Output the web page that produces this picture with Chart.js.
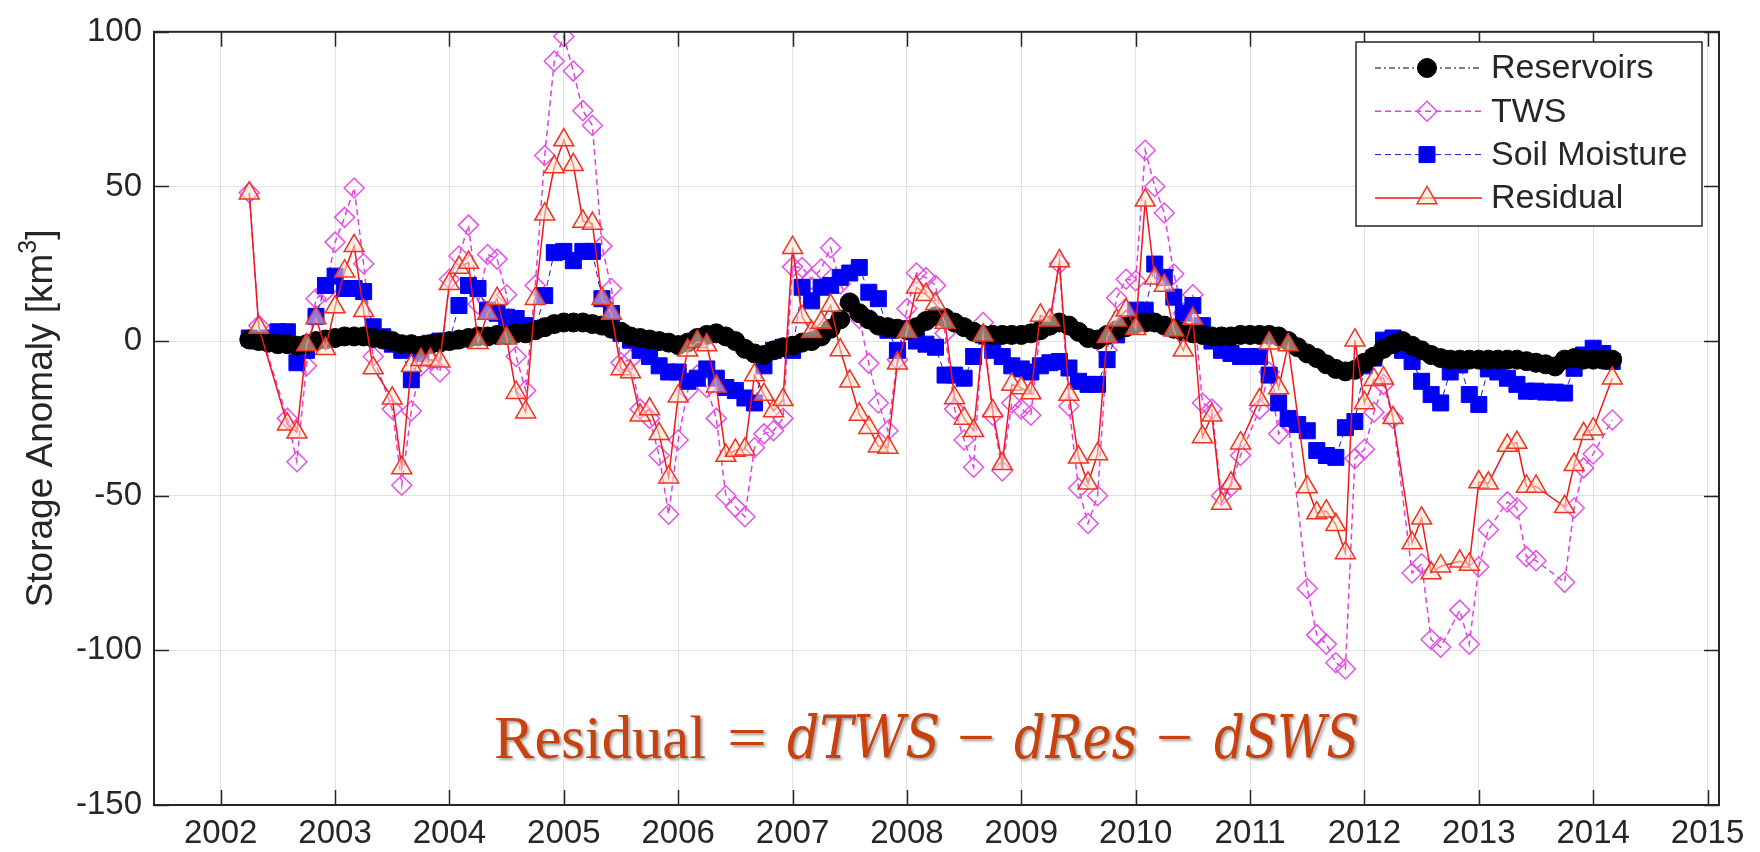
<!DOCTYPE html>
<html>
<head>
<meta charset="utf-8">
<script src="https://cdn.jsdelivr.net/npm/chart.js@4.4.1/dist/chart.umd.min.js"></script>
<style>
  html, body { margin: 0; padding: 0; background: #fff; }
  #wrap { position: relative; width: 1760px; height: 852px; }
</style>
</head>
<body>
<div id="wrap"><canvas id="chart" width="1760" height="852"></canvas></div>
<script>
// monthly values from April 2002 to March 2014, km^3 (null = no GRACE month)
var startYear = 2002;
var startMonth = 4;

var reservoirs = [
  0.5, 0, -0.5, -1, -1, -1.5, -1, 0, 0.5,                     // 2002
  1, 1.5, 1.5, 1.5, 1, 0.5, 0, -1, -1, -1.5, -1, -0.5,        // 2003
  0, 0.5, 1, 1.5, 1.5, 2, 2, 2.5, 2.5, 3.5, 4.5, 5.5,         // 2004
  6, 6, 6, 5.5, 5, 4, 3, 1.5, 1, 0.5, 0, -0.5,                // 2005
  -1.3, -0.5, 1, 2, 2.5, 1.5, 0, -2.5, -4, -4.5, -3, -2,      // 2006
  -1.5, -0.5, 0, 1.5, 4, 7, 12.5, 9, 7, 5, 4.5, 4,            // 2007
  3.5, 4.5, 6.5, 8, 7.5, 6, 4.5, 3, 2, 2, 2, 2,               // 2008
  2, 2.5, 3.5, 5, 6, 5, 3, 1, 0.5, 2, 3.5, 4.5,               // 2009
  5.5, 6, 6, 5, 4, 3, 2.5, 2, 1.5, 1.5, 1.5, 2,               // 2010
  2, 2, 2, 1.5, 0, -2, -4, -5.5, -7.5, -9, -9.8, -9.3,        // 2011
  -7, -5, -2.5, -1, 0, -1.5, -3, -4.5, -5.5, -6, -6, -6,      // 2012
  -6, -6, -6, -6, -6, -6.5, -7, -7.5, -8.2, -6, -5.5, -6,     // 2013
  -6, -6, -6                                                  // 2014
];

var tws = [
  48, 5, null, null, -25, -39, -8, 13.7, 16,
  32, 40, 49.5, 25, -5, null, -22, -46.6, -22.6, -8, -6, -10,
  20, 27.5, 37.5, 12, 28, 26.5, 15, -5, -16, 18, 60, 90.5,
  98.5, 87.3, 74.5, 69.7, 30.7, 17, -7, -6, -22, -25, -37, -56,
  -32, -16, -11, -15, -25, -50, -53.6, -56.8, -34.5, -30, -29, -25,
  24, 23.8, 20, 23.3, 30.2, 18.5, 12, 7.3, -7.2, -20, -29, -6,
  10.5, 22, 20.5, 18, 2.5, -22, -32, -40.8, 6, -24, -42, -20,
  -22, -24, 4, 5, 25, -21, -47.6, -59, -50, -3, 14, 20,
  19.5, 61.7, 50, 41.4, 21.7, 9, 15, -20, -22, -50, -47, -37,
  null, -22, -10, -30, -26, null, -80, -95, -98, -104, -106, -38,
  -35, -23, -14, -25, null, -75, -72, -96.5, -99, null, -87, -98,
  -73, -61, null, -52, -54, -69.7, -71, null, null, -78, -54, -41,
  -36.5, null, -25.5
];

var soilMoisture = [
  1, 0, 1, 3, 3, -7, -3, 8, 18,
  21, 17, 17, 16, 4.6, 1.4, -1, -3, -12.5, -4, -0.7, 0,
  0, 11.5, 18, 17, 10, 9, 7.7, 7.3, 5, 4, 14.7, 28.6,
  29, 26, 29, 29, 13.7, 8.9, 2.5, 0.3, -3, -5, -8, -10,
  -10, -13, -12, -9, -12, -15, -16, -18.4, -20, -8, -3, -2,
  -3, 17.4, 13, 17.4, 18, 20.6, 22, 23.8, 15.8, 13.7, 3.5, -3,
  4, 0, -1, -2, -11, -11, -12, -5, 2, -3, -5, -8,
  -9, -10, -8, -7, -6.6, -8.7, -13, -14, -14, -6, 2, 5,
  10, 10, 24.9, 20.6, 14.2, 9, 11.5, 5, 0, -3, -4, -5,
  -5, -5, -11, -20, -25, -27, -29, -35.4, -37, -37.6, -28, -26,
  -8, -5.5, 0.3, 1, -3, -6.6, -13, -17.3, -20, -10, -7.7, -17.3,
  -20.5, -9, -10, -12, -14, -16.2, -16.2, -16.5, -16.5, -16.8, -8.8, -4.5,
  -2.3, -4, -6.6
];

var residual = [
  47.8, 4.4, null, null, -26.9, -29.5, -1.3, 7.5, -2.5,
  11, 22.6, 30.8, 9.8, -8.7, null, -18.5, -41, -8, -6, -6, -6.5,
  18.5, 23.8, 25.4, -0.5, 8.9, 13.7, 0.9, -16.7, -23, 13.7, 41, 56.3,
  65, 57, 38.7, 38, 13.7, 8.9, -9, -10, -24, -22, -30, -44,
  -17.8, -3, -0.2, -1.3, -14.6, -37, -35.4, -35, -11, -17.3, -22.6, -19,
  30.2, 7.8, 3, 6, 11.5, -2.9, -13, -23.7, -28, -34, -34.4, -7.2,
  3, 17.4, 15, 12, 6, -18.4, -25, -29, 1.9, -22.6, -39.7, -14,
  -15.2, -16.8, 8.3, 6.7, 25.9, -17.3, -37.6, -46, -36.5, 1.4, 6.7, 10,
  4, 45.5, 20.3, 18, 3.5, -3, 7.3, -31, -24, -52.5, -46, -33,
  null, -19, -0.7, -15.2, -1.3, null, -47.2, -55.6, -55, -59.4, -68.5, 0.3,
  -20, -12.5, -12, -24.8, null, -65.3, -57.3, -75, -72.8, null, -71.2, -72.2,
  -45.6, -46, null, -33.8, -32.8, -47, -47, null, null, -53.6, -40, -30,
  -28.5, null, -12
];

var yearTicks = [2002, 2003, 2004, 2005, 2006, 2007, 2008, 2009, 2010, 2011, 2012, 2013, 2014, 2015];
var yTicks = [-150, -100, -50, 0, 50, 100];

var axisColor = '#262626';
var fontFamily = '"Liberation Sans", Arial, sans-serif';

function toPoints(values) {
  var pts = [];
  for (var i = 0; i < values.length; i++) {
    var m = startMonth - 1 + i;
    pts.push({ x: startYear + m / 12, y: values[i] });
  }
  return pts;
}

function drawMarker(ctx, style, x, y, r) {
  ctx.beginPath();
  if (style === 'circle') {
    ctx.arc(x, y, r, 0, Math.PI * 2);
  } else if (style === 'rectRot') {
    ctx.moveTo(x, y - r); ctx.lineTo(x + r, y); ctx.lineTo(x, y + r); ctx.lineTo(x - r, y);
  } else if (style === 'rect') {
    var h = r * Math.SQRT1_2;
    ctx.rect(x - h, y - h, 2 * h, 2 * h);
  } else if (style === 'triangle') {
    var a = 0;
    ctx.moveTo(x + Math.sin(a) * r, y - Math.cos(a) * r);
    a += 2 * Math.PI / 3;
    ctx.lineTo(x + Math.sin(a) * r, y - Math.cos(a) * r);
    a += 2 * Math.PI / 3;
    ctx.lineTo(x + Math.sin(a) * r, y - Math.cos(a) * r);
  }
  ctx.closePath();
}

// box round the plot and inward tick marks, like the original figure
var framePlugin = {
  id: 'frame',
  afterDatasetsDraw: function(chart) {
    var c = chart.ctx, a = chart.chartArea;
    var xs = chart.scales.x, ys = chart.scales.y;
    var len = 15;
    c.save();
    c.strokeStyle = axisColor;
    c.lineWidth = 1.5;
    c.beginPath();
    yearTicks.forEach(function(v) {
      var px = Math.round(xs.getPixelForValue(v)) + 0.5;
      c.moveTo(px, a.bottom); c.lineTo(px, a.bottom - len);
      c.moveTo(px, a.top); c.lineTo(px, a.top + len);
    });
    yTicks.forEach(function(v) {
      var py = Math.round(ys.getPixelForValue(v)) + 0.5;
      c.moveTo(a.left, py); c.lineTo(a.left + len, py);
      c.moveTo(a.right, py); c.lineTo(a.right - len, py);
    });
    c.stroke();
    c.lineWidth = 2;
    c.strokeRect(a.left, a.top, a.right - a.left, a.bottom - a.top);
    c.restore();
  }
};

var legendPlugin = {
  id: 'boxLegend',
  afterDraw: function(chart) {
    var c = chart.ctx;
    var box = { x: 1356, y: 42, w: 346, h: 184 };
    c.save();
    c.fillStyle = '#fff';
    c.fillRect(box.x, box.y, box.w, box.h);
    c.strokeStyle = axisColor;
    c.lineWidth = 1.5;
    c.strokeRect(box.x, box.y, box.w, box.h);
    chart.data.datasets.forEach(function(ds, i) {
      var y = 68 + i * 43.3;
      c.save();
      c.strokeStyle = ds.borderColor;
      c.lineWidth = ds.borderWidth;
      c.setLineDash(ds.borderDash || []);
      c.beginPath();
      c.moveTo(1375, y); c.lineTo(1482, y);
      c.stroke();
      c.setLineDash([]);
      drawMarker(c, ds.pointStyle, 1427, y, ds.pointRadius);
      c.fillStyle = ds.pointBackgroundColor;
      c.fill();
      c.lineWidth = ds.pointBorderWidth;
      c.strokeStyle = ds.pointBorderColor;
      c.stroke();
      c.restore();
      c.fillStyle = axisColor;
      c.font = '34px ' + fontFamily;
      c.textBaseline = 'middle';
      c.textAlign = 'left';
      c.fillText(ds.label, 1491, y + 1);
    });
    c.restore();
  }
};

// y axis title with a real superscript 3
var yTitlePlugin = {
  id: 'yTitle',
  afterDraw: function(chart) {
    var c = chart.ctx, a = chart.chartArea;
    var main = '37px ' + fontFamily, sup = '25px ' + fontFamily;
    var pieces = [['Storage Anomaly [km', main, 0], ['3', sup, -13], [']', main, 0]];
    c.save();
    var total = 0;
    pieces.forEach(function(p) { c.font = p[1]; p.push(c.measureText(p[0]).width); total += p[3]; });
    c.translate(42, (a.top + a.bottom) / 2);
    c.rotate(-Math.PI / 2);
    c.fillStyle = axisColor;
    c.textAlign = 'left';
    c.textBaseline = 'middle';
    var x = -total / 2;
    pieces.forEach(function(p) {
      c.font = p[1];
      c.fillText(p[0], x, p[2]);
      x += p[3];
    });
    c.restore();
  }
};

var formulaPlugin = {
  id: 'formula',
  afterDraw: function(chart) {
    var c = chart.ctx;
    var up = '62px "Liberation Serif", serif';
    var it = 'italic 60px "DejaVu Serif", "Liberation Serif", serif';
    // text, left edge, width in the original
    var parts = [
      ['Residual', 494, 212, up], ['=', 727, 40, up], ['dTWS', 787, 153, it],
      ['\u2212', 957, 38, up], ['dRes', 1014, 123, it], ['\u2212', 1156, 37, up], ['dSWS', 1214, 145, it]
    ];
    c.save();
    c.fillStyle = '#c9410d';
    c.shadowColor = 'rgba(0,0,0,0.4)';
    c.shadowOffsetX = 2;
    c.shadowOffsetY = 2;
    c.shadowBlur = 3;
    c.textBaseline = 'alphabetic';
    parts.forEach(function(p) {
      c.font = p[3];
      var w = c.measureText(p[0]).width;
      c.save();
      c.translate(p[1], 758);
      c.scale(p[2] / w, 1);
      c.fillText(p[0], 0, 0);
      c.restore();
    });
    c.restore();
  }
};

var chart = new Chart(document.getElementById('chart'), {
  type: 'line',
  data: {
    datasets: [
      {
        label: 'Reservoirs', data: toPoints(reservoirs), order: 1,
        borderColor: '#000000', borderWidth: 1, borderDash: [6, 3, 2, 3],
        pointStyle: 'circle', pointRadius: 9.5, pointBorderWidth: 1,
        pointBackgroundColor: '#000000', pointBorderColor: '#000000'
      },
      {
        label: 'TWS', data: toPoints(tws), order: 3,
        borderColor: '#e03fe0', borderWidth: 1.5, borderDash: [6, 4],
        pointStyle: 'rectRot', pointRadius: 10, pointBorderWidth: 1.5,
        pointBackgroundColor: 'rgba(255,255,255,0)', pointBorderColor: '#e651e6'
      },
      {
        label: 'Soil Moisture', data: toPoints(soilMoisture), order: 2,
        borderColor: '#1a1acc', borderWidth: 1, borderDash: [6, 4],
        pointStyle: 'rect', pointRadius: 11.3, pointBorderWidth: 1,
        pointBackgroundColor: '#0000f5', pointBorderColor: '#0000f5'
      },
      {
        label: 'Residual', data: toPoints(residual), order: 0,
        borderColor: '#f01818', borderWidth: 1.5,
        pointStyle: 'triangle', pointRadius: 11.5, pointBorderWidth: 1.5,
        pointBackgroundColor: 'rgba(255,228,210,0.55)', pointBorderColor: '#ee3322'
      }
    ]
  },
  options: {
    responsive: false,
    animation: false,
    devicePixelRatio: 1,
    spanGaps: true,
    layout: { padding: { left: 0, right: 41, top: 24, bottom: 0 } },
    plugins: { legend: { display: false }, tooltip: { enabled: false } },
    elements: { line: { tension: 0 } },
    scales: {
      x: {
        type: 'linear', min: 2001.417, max: 2015.1,
        afterBuildTicks: function(s) { s.ticks = yearTicks.map(function(v) { return { value: v }; }); },
        afterFit: function(s) { s.height = 47; },
        grid: { color: '#e2e2e2', lineWidth: 1, drawTicks: false },
        border: { display: false },
        ticks: {
          padding: 9, color: axisColor, autoSkip: false, maxRotation: 0,
          font: { family: fontFamily, size: 33 },
          callback: function(v) { return String(v); }
        }
      },
      y: {
        min: -150, max: 100,
        afterBuildTicks: function(s) { s.ticks = yTicks.map(function(v) { return { value: v }; }); },
        afterFit: function(s) { s.width = 154; },
        grid: { color: '#e2e2e2', lineWidth: 1, drawTicks: false },
        border: { display: false },
        ticks: {
          padding: 12, color: axisColor,
          font: { family: fontFamily, size: 33 },
          callback: function(v) { return String(v); }
        }
      }
    }
  },
  plugins: [framePlugin, legendPlugin, yTitlePlugin, formulaPlugin]
});
</script>
</body>
</html>
